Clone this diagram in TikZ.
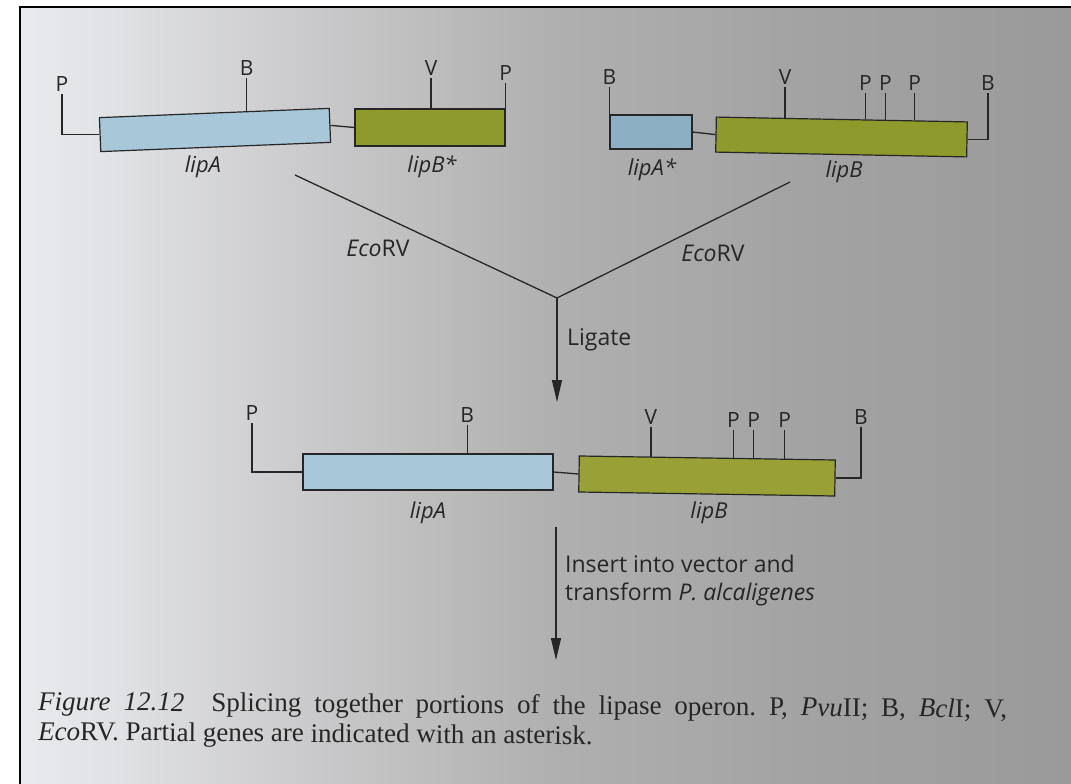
\documentclass[tikz,border=0pt]{standalone}
\usepackage{fontspec}
\setmainfont{Liberation Serif}
\setsansfont{Open Sans}
\usetikzlibrary{calc,arrows.meta}

\definecolor{ink}{HTML}{262626}
\definecolor{geneblue}{HTML}{A8C8DA}
\definecolor{genebluedark}{HTML}{8DAFC4}
\definecolor{geneolive}{HTML}{8E9A2C}
\definecolor{geneolivelight}{HTML}{99A136}
\definecolor{bgA}{HTML}{E8EAEE}
\definecolor{bgB}{HTML}{E0E1E4}
\definecolor{bgC}{HTML}{CBCBCD}
\definecolor{bgD}{HTML}{B0B0B0}
\definecolor{bgE}{HTML}{A3A3A3}
\definecolor{bgF}{HTML}{9A9A9A}

% page tone, light at the gutter and greyer towards the outer edge
\pgfdeclarehorizontalshading{pagetone}{100bp}{%
  color(0bp)=(bgA); color(25bp)=(bgA); color(29.76bp)=(bgB);
  color(38.32bp)=(bgC); color(50.21bp)=(bgD); color(62.11bp)=(bgE);
  color(75bp)=(bgF); color(100bp)=(bgF)}

\tikzset{
  wireline/.style={draw=ink, line width=1.3pt},
  genebox/.style={draw=ink, line width=1.2pt, inner sep=0pt},
  sitelbl/.style={text=ink, font=\sffamily\fontsize{21}{21}\selectfont, inner sep=2.5pt},
  genename/.style={text=ink, font=\sffamily\itshape\fontsize{22}{22}\selectfont, inner sep=0pt},
  notetext/.style={text=ink, font=\sffamily\fontsize{23}{28}\selectfont, inner sep=0pt, align=left},
  flowarrow/.style={draw=ink, line width=1.3pt, -{Triangle[length=22pt,width=10pt]}},
  captext/.style={text=ink, font=\fontsize{27}{30}\selectfont\frenchspacing, inner sep=0pt}
}

\begin{document}
\begin{tikzpicture}[x=1pt,y=-1pt]
\useasboundingbox (0,0) rectangle (1071,784);

% page and frame
\fill[white] (0,0) rectangle (1071,784);
\shade[shading=pagetone] (20,7) rectangle (1071,784);
\draw[black, line width=2.2pt] (20,784) -- (20,7) -- (1071,7);

% ---------- fragment 1: lipA - lipB* ----------
\node[genebox, fill=geneblue, minimum width=230pt, minimum height=34pt, rotate=2.3] (lipA1) at (215,130) {};
\node[genebox, fill=geneolive, minimum width=150pt, minimum height=37pt] (lipBs) at (430,127.5) {};
\draw[wireline] (lipA1.east) -- (lipBs.west);

\node[sitelbl, anchor=south] (sP1) at (62,94) {P};
\draw[wireline] (sP1.south) |- (lipA1.west);

\coordinate (kB1) at ($(lipA1.north west)!0.64!(lipA1.north east)$);
\node[sitelbl, anchor=south] (sB1) at (kB1 |- 0,78) {B};
\draw[wireline] (kB1) -- (sB1.south);

\coordinate (kV1) at ($(lipBs.north west)!0.507!(lipBs.north east)$);
\node[sitelbl, anchor=south] (sV1) at (kV1 |- 0,78) {V};
\draw[wireline] (kV1) -- (sV1.south);

\node[sitelbl, anchor=south] (sP2) at (lipBs.north east |- 0,83) {P};
\draw[wireline] (lipBs.north east) -- (sP2.south);

\node[genename] (nA1) at (203,167) {lipA};
\node[genename] (nB1) at (432,167) {lipB*};

% ---------- fragment 2: lipA* - lipB ----------
\node[genebox, fill=genebluedark, minimum width=82pt, minimum height=34pt] (lipAs) at (651,132) {};
\node[genebox, fill=geneolive, minimum width=251pt, minimum height=35pt, rotate=-1.1] (lipB2) at (841.5,137) {};
\draw[wireline] (lipAs.east) -- (lipB2.west);

\node[sitelbl, anchor=south] (sB2) at (lipAs.north west |- 0,87) {B};
\draw[wireline] (lipAs.north west) -- (sB2.south);

\coordinate (kV2) at ($(lipB2.north west)!0.275!(lipB2.north east)$);
\node[sitelbl, anchor=south] (sV2) at (kV2 |- 0,87) {V};
\draw[wireline] (kV2) -- (sV2.south);

\coordinate (kP3) at ($(lipB2.north west)!0.594!(lipB2.north east)$);
\node[sitelbl, anchor=south] (sP3) at (kP3 |- 0,93) {P};
\draw[wireline] (kP3) -- (sP3.south);
\coordinate (kP4) at ($(lipB2.north west)!0.673!(lipB2.north east)$);
\node[sitelbl, anchor=south] (sP4) at (kP4 |- 0,93) {P};
\draw[wireline] (kP4) -- (sP4.south);
\coordinate (kP5) at ($(lipB2.north west)!0.789!(lipB2.north east)$);
\node[sitelbl, anchor=south] (sP5) at (kP5 |- 0,93) {P};
\draw[wireline] (kP5) -- (sP5.south);

\node[sitelbl, anchor=south] (sB3) at (988,93) {B};
\draw[wireline] (sB3.south) |- (lipB2.east);

\node[genename] (nA2) at (652,170) {lipA*};
\node[genename] (nB2) at (844,172) {lipB};

% ---------- digestion and ligation ----------
\coordinate (cutL) at (295,175);
\coordinate (cutR) at (790,182);
\coordinate (join) at (557,298);
\draw[wireline] (cutL) -- (join) -- (cutR);
\node[notetext] (ecoL) at (378,248) {\textit{Eco}RV};
\node[notetext] (ecoR) at (713,253) {\textit{Eco}RV};

\coordinate (ligEnd) at (557,402);
\draw[flowarrow] (join) -- (ligEnd);
\node[notetext, anchor=west] (ligate) at (567,340) {Ligate};

% ---------- spliced operon ----------
\node[genebox, fill=geneblue, minimum width=250pt, minimum height=36pt] (lipA3) at (428,472) {};
\node[genebox, fill=geneolivelight, minimum width=256pt, minimum height=36pt, rotate=-0.9] (lipB3) at (707,476) {};
\draw[wireline] (lipA3.east) -- (lipB3.west);

\node[sitelbl, anchor=south] (sP6) at (252,423) {P};
\draw[wireline] (sP6.south) |- (lipA3.west);

\coordinate (kB4) at ($(lipA3.north west)!0.656!(lipA3.north east)$);
\node[sitelbl, anchor=south] (sB4) at (kB4 |- 0,425) {B};
\draw[wireline] (kB4) -- (sB4.south);

\coordinate (kV3) at ($(lipB3.north west)!0.281!(lipB3.north east)$);
\node[sitelbl, anchor=south] (sV3) at (kV3 |- 0,427) {V};
\draw[wireline] (kV3) -- (sV3.south);

\coordinate (kP7) at ($(lipB3.north west)!0.602!(lipB3.north east)$);
\node[sitelbl, anchor=south] (sP7) at (kP7 |- 0,430) {P};
\draw[wireline] (kP7) -- (sP7.south);
\coordinate (kP8) at ($(lipB3.north west)!0.680!(lipB3.north east)$);
\node[sitelbl, anchor=south] (sP8) at (kP8 |- 0,430) {P};
\draw[wireline] (kP8) -- (sP8.south);
\coordinate (kP9) at ($(lipB3.north west)!0.801!(lipB3.north east)$);
\node[sitelbl, anchor=south] (sP9) at (kP9 |- 0,430) {P};
\draw[wireline] (kP9) -- (sP9.south);

\node[sitelbl, anchor=south] (sB5) at (861,427) {B};
\draw[wireline] (sB5.south) |- (lipB3.east);

\node[genename] (nA3) at (428,513) {lipA};
\node[genename] (nB3) at (709,513) {lipB};

% ---------- transformation ----------
\coordinate (insTop) at (556,527);
\coordinate (insEnd) at (556,660);
\draw[flowarrow] (insTop) -- (insEnd);
\node[notetext, anchor=north west] (insert) at (565,555)
  {Insert into vector and\\transform \textit{P. alcaligenes}};

% ---------- legend ----------
\node[captext, anchor=base west, rotate=-0.45] (cap1) at (38,710)
  {\makebox[969pt][s]{\textit{Figure 12.12}\quad Splicing together portions of the lipase operon. P, \textit{Pvu}II; B, \textit{Bcl}I; V,}};
\node[captext, anchor=base west, rotate=-0.45] (cap2) at (38,740)
  {\textit{Eco}RV. Partial genes are indicated with an asterisk.};
\end{tikzpicture}
\end{document}
